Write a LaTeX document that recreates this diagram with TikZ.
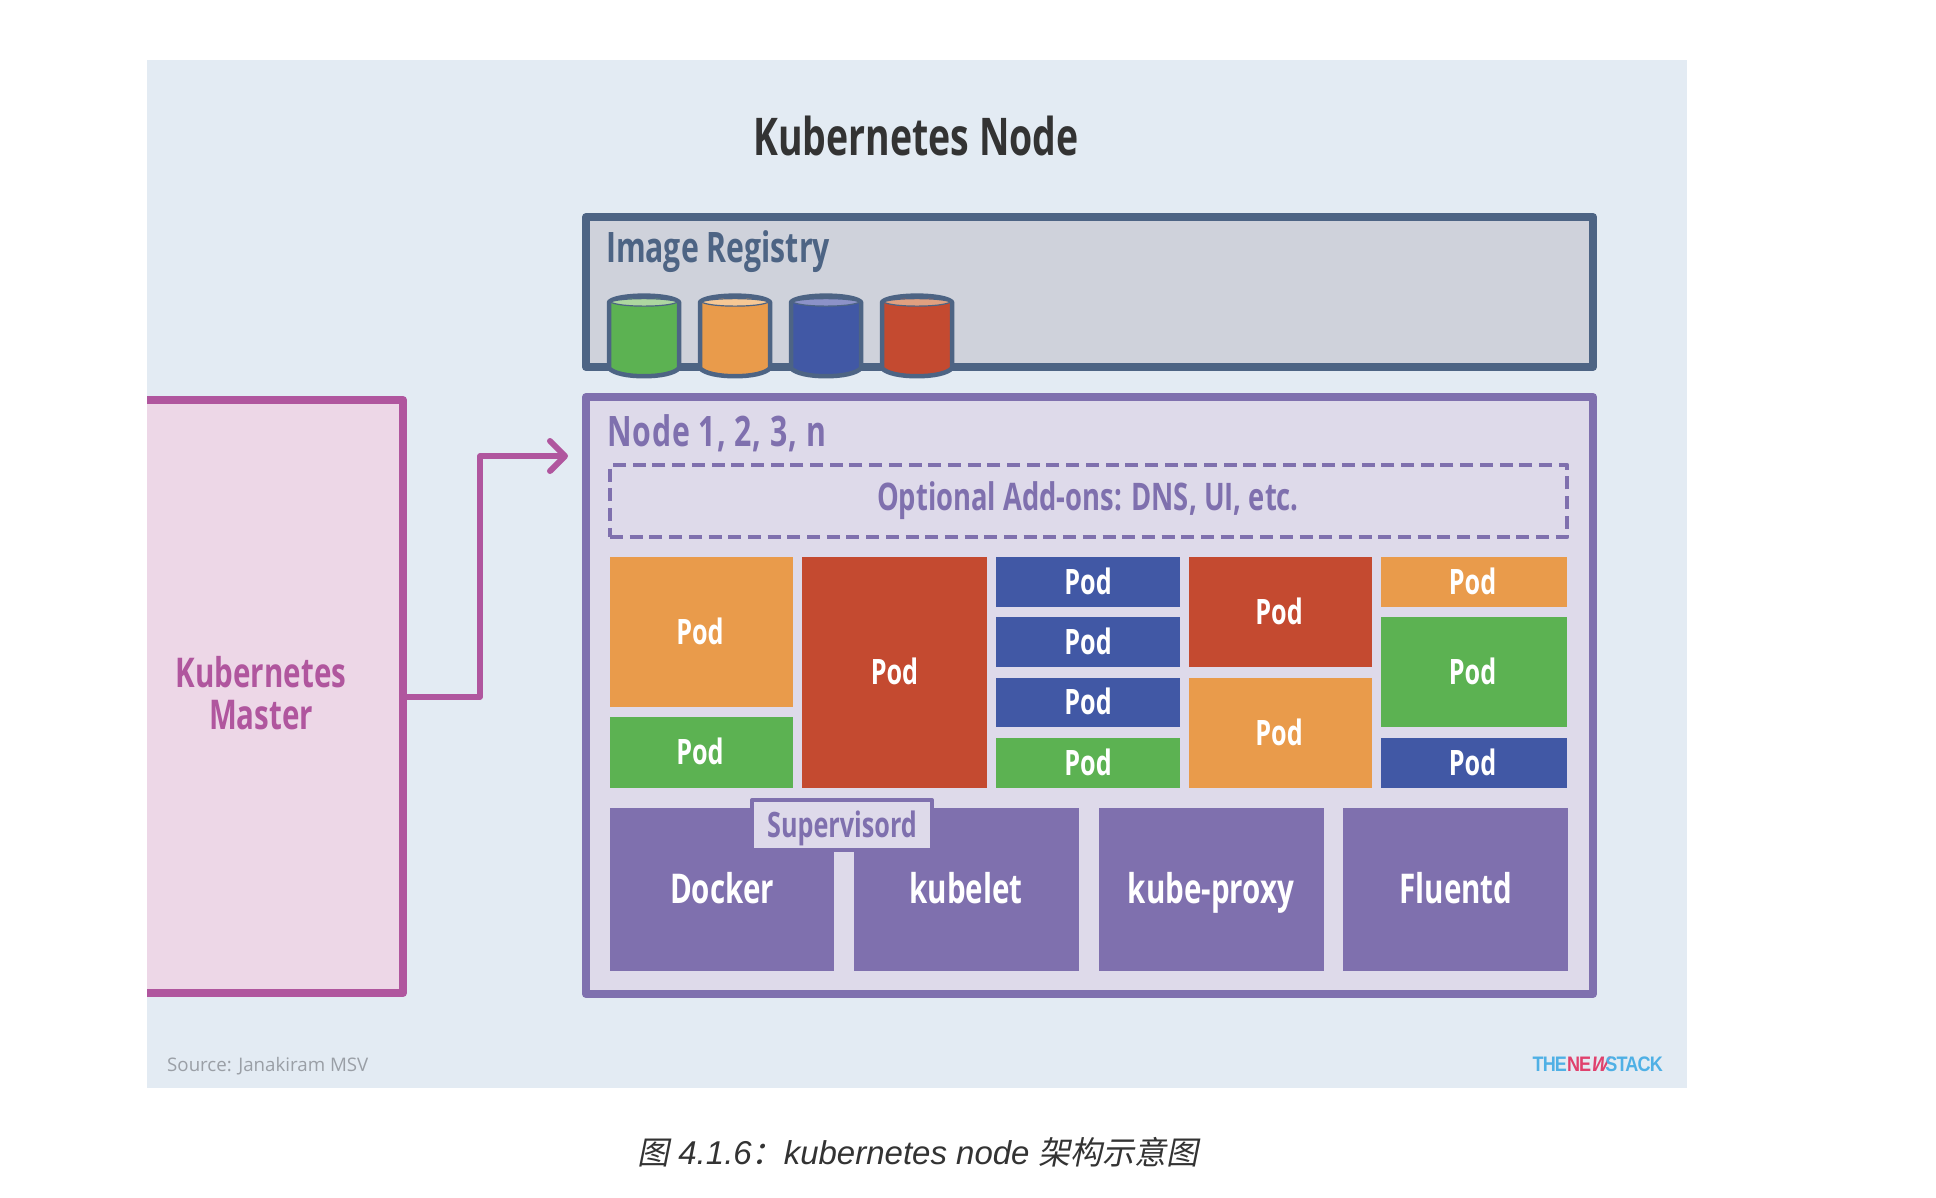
\documentclass[tikz,border=0pt]{standalone}
\usepackage{fontspec}
\usetikzlibrary{arrows.meta}
\setmainfont{Open Sans}
\newfontfamily\cond{Open Sans}[FakeStretch=0.72]
\newfontfamily\capl{Liberation Sans}
\newfontfamily\capc{Noto Sans CJK SC}[FakeSlant=0.2]
\newfontfamily\logof{Liberation Sans}[FakeStretch=0.86,LetterSpace=-4]
\newfontfamily\logos{Liberation Sans}[FakeStretch=0.86,FakeSlant=0.3]
\definecolor{bgc}{HTML}{E3EBF3}
\definecolor{regc}{HTML}{4D6484}
\definecolor{regf}{HTML}{CFD2DB}
\definecolor{nodec}{HTML}{7F70AE}
\definecolor{nodef}{HTML}{DEDAEA}
\definecolor{mastc}{HTML}{B0569E}
\definecolor{mastf}{HTML}{EDD7E7}
\definecolor{grn}{HTML}{5CB252}
\definecolor{org}{HTML}{E99B4B}
\definecolor{blu}{HTML}{4158A5}
\definecolor{rdd}{HTML}{C44A30}
\definecolor{grnl}{HTML}{ADD6A0}
\definecolor{orgl}{HTML}{F6C895}
\definecolor{blul}{HTML}{8C92C8}
\definecolor{rddl}{HTML}{E0A080}
\definecolor{txt}{HTML}{333333}
\definecolor{srcc}{HTML}{9A9FA6}
\definecolor{logob}{HTML}{4FB0E5}
\definecolor{logor}{HTML}{E0416D}
\tikzset{
  x=1pt,y=-1pt,
  boxn/.style={rectangle,inner sep=0pt,outer sep=0pt,line join=round},
  condtext/.style={font=\cond\bfseries\fontsize{#1}{#1}\selectfont,text height=#1*0.714pt,text depth=0pt},
  podbox/.style={boxn,text=white,condtext=35},
  svcbox/.style={boxn,fill=nodec},
  lab/.style={inner sep=0pt,outer sep=0pt,condtext=#1},
  lab/.default=34
}
% name, x1, y1, x2, y2, style options, text
\newcommand{\rectnode}[7]{%
  \pgfmathsetmacro{\cxv}{(#2+#4)/2}\pgfmathsetmacro{\cyv}{(#3+#5)/2}%
  \pgfmathsetmacro{\wv}{#4-#2}\pgfmathsetmacro{\hv}{#5-#3}%
  \node[#6,minimum width=\wv pt,minimum height=\hv pt] (#1) at (\cxv,\cyv) {#7};}
% x-left of centre line, fill, light
\newcommand{\drum}[3]{%
  \begin{scope}[shift={(#1,1)}]
    \filldraw[fill=#2,draw=regc,line width=4.5pt,line join=round]
      (0,301) -- (0,367) .. controls (8,378) and (62,378) .. (70,367) -- (70,301)
      .. controls (62,292.5) and (8,292.5) .. (0,301) -- cycle;
    \filldraw[fill=#3,draw=regc,line width=1.2pt]
      (1.5,301) .. controls (10,296.5) and (60,296.5) .. (68.5,301)
      .. controls (60,306.5) and (10,306.5) .. (1.5,301) -- cycle;
  \end{scope}}
\begin{document}
\begin{tikzpicture}
\useasboundingbox (0,0) rectangle (1936,1198);
\fill[white] (0,0) rectangle (1936,1198);
\rectnode{bg}{147}{60}{1687}{1088}{boxn,fill=bgc}{}
\node[lab=52,text=txt] (title) at (916,137) {Kubernetes Node};

% Image registry
\rectnode{registry}{586}{217}{1593}{367}{boxn,fill=regf,draw=regc,line width=8pt}{}
\node[lab=42,text=regc,anchor=west] (reglabel) at (606,248) {Image Registry};
\drum{609}{grn}{grnl}
\drum{700}{org}{orgl}
\drum{791}{blu}{blul}
\drum{882}{rdd}{rddl}

% Node box
\rectnode{nodebox}{586}{397}{1593}{994}{boxn,fill=nodef,draw=nodec,line width=8pt}{}
\node[lab=42,text=nodec,anchor=west] (nodelabel) at (607,432) {\addfontfeatures{LetterSpace=2.2}Node 1, 2, 3, n};
\rectnode{addons}{610}{465}{1567}{537}{boxn,draw=nodec,line width=4.5pt,dash pattern=on 13pt off 6.7pt,text=nodec,condtext=38}{}
\node[lab=38,text=nodec] (addonslab) at (1088,497) {Optional Add-ons: DNS, UI, etc.};

% Pods
\rectnode{p1}{610}{557}{793}{707}{podbox,fill=org}{\kern-3pt Pod}
\rectnode{p2}{610}{717}{793}{788}{podbox,fill=grn}{\kern-3pt Pod}
\rectnode{p3}{802}{557}{987}{788}{podbox,fill=rdd}{Pod}
\rectnode{p4}{996}{557}{1180}{607}{podbox,fill=blu}{Pod}
\rectnode{p5}{996}{617}{1180}{667}{podbox,fill=blu}{Pod}
\rectnode{p6}{996}{678}{1180}{727}{podbox,fill=blu}{Pod}
\rectnode{p7}{996}{738}{1180}{788}{podbox,fill=grn}{Pod}
\rectnode{p8}{1189}{557}{1372}{667}{podbox,fill=rdd}{\kern-3pt Pod}
\rectnode{p9}{1189}{678}{1372}{788}{podbox,fill=org}{\kern-3pt Pod}
\rectnode{p10}{1381}{557}{1567}{607}{podbox,fill=org}{\kern-3pt Pod}
\rectnode{p11}{1381}{617}{1567}{727}{podbox,fill=grn}{\kern-3pt Pod}
\rectnode{p12}{1381}{738}{1567}{788}{podbox,fill=blu}{\kern-3pt Pod}

% Services
\rectnode{docker}{610}{808}{834}{971}{svcbox}{}
\rectnode{kubelet}{854}{808}{1079}{971}{svcbox}{}
\rectnode{proxy}{1099}{808}{1324}{971}{svcbox}{}
\rectnode{fluentd}{1343}{808}{1568}{971}{svcbox}{}
\node[lab=41,text=white] (dockerlab) at (722,889) {Docker};
\node[lab=41,text=white] (kubeletlab) at (966,889) {kubelet};
\node[lab=41,text=white] (proxylab) at (1211,889) {kube-proxy};
\node[lab=41,text=white] (fluentdlab) at (1456,889) {Fluentd};
\rectnode{supervisord}{752}{800}{932}{850}{boxn,fill=nodef,draw=nodec,line width=4pt,text=nodec,condtext=35}{Supervisord}

% Master
\rectnode{master}{147}{400}{403}{993}{boxn,fill=mastf}{}
\draw[mastc,line width=8pt,line join=round] (master.north west) -- (master.north east) -- (master.south east) -- (master.south west);
\node[lab=41,text=mastc] (masterl1) at (261,673) {Kubernetes};
\node[lab=41,text=mastc] (masterl2) at (261,715) {Master};
\coordinate (elbowa) at (480,697);
\coordinate (elbowb) at (480,456);
\coordinate (arrowend) at (568,456);
\draw[mastc,line width=5.5pt,line join=round,-{Straight Barb[round,length=15pt,width=30pt,line width=6pt]}] (master.east |- elbowa) -- (elbowa) -- (elbowb) -- (arrowend);

% Footer
\node[inner sep=0pt,anchor=west,text=srcc,font=\fontsize{18.7}{22}\selectfont] (source) at (167,1066) {Source: Janakiram MSV};
\node[inner sep=0pt,anchor=east,font=\logof\bfseries\fontsize{21}{22}\selectfont] (logo) at (1663,1064) {\textcolor{logob}{THE}\textcolor{logor}{NE\kern-1.5pt{\logos\bfseries W}}\kern-1.5pt\textcolor{logob}{STACK}};
\node[inner sep=0pt,text=txt,font=\capl\itshape\fontsize{33}{36}\selectfont] (caption) at (918,1152) {{\capc\fontsize{32}{36}\selectfont 图} 4.1.6{\capc\fontsize{32}{36}\selectfont ：}kubernetes node {\capc\fontsize{32}{36}\selectfont 架构示意图}};
\end{tikzpicture}
\end{document}
